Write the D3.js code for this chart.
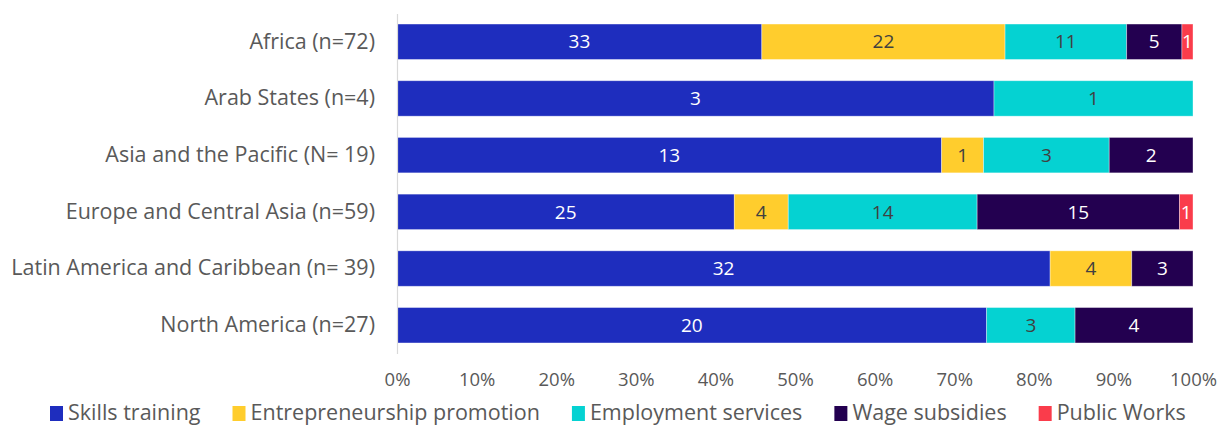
<!DOCTYPE html>
<html>
<head>
<meta charset="utf-8">
<script src="https://cdn.jsdelivr.net/npm/d3@7"></script>
<style>
  html, body { margin: 0; padding: 0; background: #fff; }
  svg { display: block; font-family: "Open Sans", "Noto Sans", sans-serif; }
</style>
</head>
<body>
<svg id="chart" width="1219" height="426"></svg>
<script>
// Regions and counts of programmes per type
const regions = [
  "Africa (n=72)",
  "Arab States (n=4)",
  "Asia and the Pacific (N= 19)",
  "Europe and Central Asia (n=59)",
  "Latin America and Caribbean (n= 39)",
  "North America (n=27)"
];
const seriesNames = ["Skills training", "Entrepreneurship promotion", "Employment services", "Wage subsidies", "Public Works"];
const skillsTraining   = [33, 3, 13, 25, 32, 20];
const entrepreneurship = [22, 0, 1, 4, 4, 0];
const employmentServ   = [11, 1, 3, 14, 0, 3];
const wageSubsidies    = [5, 0, 2, 15, 3, 4];
const publicWorks      = [1, 0, 0, 1, 0, 0];
const tickValues = [0, 0.1, 0.2, 0.3, 0.4, 0.5, 0.6, 0.7, 0.8, 0.9, 1.0];

const colors = ["#1E2DBE", "#FFCD2D", "#05D2D2", "#230050", "#FA3C4B"];
const labelColors = ["#ffffff", "#404040", "#404040", "#ffffff", "#ffffff"];

const seriesValues = [skillsTraining, entrepreneurship, employmentServ, wageSubsidies, publicWorks];
const keys = seriesNames;
const rows = regions.map((r, i) => {
  const o = { region: r };
  keys.forEach((k, j) => o[k] = seriesValues[j][i]);
  return o;
});

const svg = d3.select("#chart");
const margin = { left: 397, right: 26, top: 13.4, bottom: 72.4 };
const W = 1219, H = 426;

const x = d3.scaleLinear().domain([0, 1]).range([margin.left, W - margin.right]);
const y = d3.scaleBand().domain(regions).range([margin.top, H - margin.bottom]).paddingInner(0.375).paddingOuter(0.1875);

const stacked = d3.stack().keys(keys).offset(d3.stackOffsetExpand)(rows);

// Bars
const layers = svg.append("g").selectAll("g").data(stacked).join("g")
  .attr("fill", (d, i) => colors[i]);

layers.selectAll("rect").data(d => d.filter(s => s[1] - s[0] > 0)).join("rect")
  .attr("x", d => x(d[0]))
  .attr("y", d => y(d.data.region))
  .attr("width", d => x(d[1]) - x(d[0]))
  .attr("height", y.bandwidth())
  .attr("stroke", "#ffffff")
  .attr("stroke-opacity", 0.45)
  .attr("stroke-width", 0.8);

// Value labels
stacked.forEach((layer, i) => {
  svg.append("g").selectAll("text")
    .data(layer.filter(s => s.data[layer.key] > 0))
    .join("text")
    .attr("x", d => (x(d[0]) + x(d[1])) / 2)
    .attr("y", d => y(d.data.region) + y.bandwidth() / 2)
    .attr("dy", "0.35em")
    .attr("text-anchor", "middle")
    .attr("font-size", 19)
    .attr("fill", labelColors[i])
    .text(d => d.data[layer.key]);
});

// Category axis
const yAxis = svg.append("g")
  .attr("transform", `translate(${margin.left},0)`)
  .call(d3.axisLeft(y).tickSize(0).tickPadding(22));
yAxis.select(".domain").attr("stroke", "#d9d9d9").attr("stroke-width", 1.2);
yAxis.selectAll("text").attr("font-size", 21.5).attr("fill", "#595959")
  .attr("font-family", "'Open Sans', 'Noto Sans', sans-serif");

// Percentage axis
const xAxis = svg.append("g")
  .attr("transform", `translate(0,${H - margin.bottom + 8})`)
  .call(d3.axisBottom(x).tickValues(tickValues).tickFormat(d3.format(".0%")).tickSize(0).tickPadding(11));
xAxis.select(".domain").remove();
xAxis.selectAll("text").attr("font-size", 18.5).attr("fill", "#595959")
  .attr("font-family", "'Open Sans', 'Noto Sans', sans-serif");

// Legend
const legend = svg.append("g").attr("transform", "translate(50,412)");
let lx = 0;
seriesNames.forEach((name, i) => {
  const g = legend.append("g").attr("transform", `translate(${lx},0)`);
  g.append("rect").attr("x", 0).attr("y", -6).attr("width", 13).attr("height", 15).attr("fill", colors[i]);
  const t = g.append("text").attr("x", 18).attr("dy", "0.35em")
    .attr("font-size", 21.5).attr("fill", "#595959").text(name);
  lx += 18 + t.node().getComputedTextLength() + 32;
});
</script>
</body>
</html>
